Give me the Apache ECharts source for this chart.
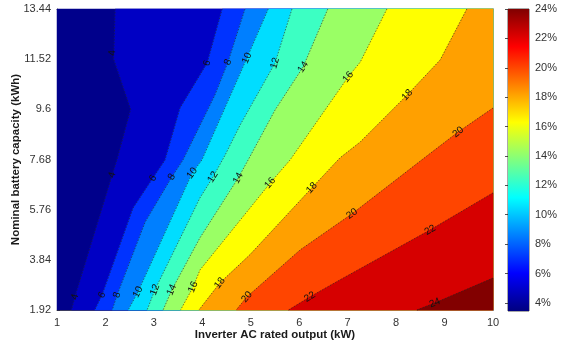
<!DOCTYPE html>
<html>
<head>
<meta charset="utf-8">
<script src="https://cdn.jsdelivr.net/npm/echarts@6/dist/echarts.min.js"></script>
<style>
html, body { margin: 0; padding: 0; background: #fff; }
#main { width: 566px; height: 345px; }
</style>
</head>
<body>
<div id="main"></div>
<script>
// contour levels (%) and colorbar ticks
var levels = [4, 6, 8, 10, 12, 14, 16, 18, 20, 22, 24];
var yTicks = [1.92, 3.84, 5.76, 7.68, 9.6, 11.52, 13.44];
var cbTicks = [4, 6, 8, 10, 12, 14, 16, 18, 20, 22, 24];

// contour lines, [kW, kWh], from the top/right end to the bottom end
var line4 = [[2.2, 13.44], [2.17, 11.52], [2.52, 9.6], [2.24, 7.68], [2.14, 7.09], [1.37, 2.42], [1.3, 1.92]];
var line6 = [[4.41, 13.44], [4.1, 11.37], [3.54, 9.65], [3.23, 7.66], [2.98, 6.97], [2.57, 5.82], [1.93, 2.49], [1.78, 1.92]];
var line8 = [[4.88, 13.44], [4.53, 11.41], [4.26, 10.15], [3.6, 7.66], [3.37, 7.01], [2.82, 5.29], [2.24, 2.49], [2.14, 1.92]];
var line10 = [[5.36, 13.44], [4.92, 11.56], [3.99, 7.66], [3.79, 7.16], [2.67, 2.61], [2.47, 1.92]];
var line12 = [[5.85, 13.44], [5.5, 11.37], [4.78, 9.0], [4.47, 7.85], [4.22, 7.01], [3.95, 6.21], [3.02, 2.69], [2.86, 1.92]];
var line14 = [[6.59, 13.44], [6.08, 11.22], [5.5, 9.57], [4.98, 7.78], [4.74, 6.97], [3.95, 4.68], [3.37, 2.69], [3.19, 1.92]];
var line16 = [[7.81, 13.44], [7.26, 11.41], [7.01, 10.84], [5.81, 7.66], [5.4, 6.78], [3.95, 3.45], [3.81, 2.8], [3.55, 1.92]];
var line18 = [[9.46, 13.44], [8.91, 11.49], [8.23, 10.15], [7.26, 8.35], [6.84, 7.74], [6.26, 6.59], [4.98, 4.03], [4.36, 2.95], [3.93, 1.92]];
var line20 = [[10, 9.65], [9.28, 8.73], [8.66, 7.85], [7.09, 5.6], [6.02, 4.22], [4.92, 2.42], [4.7, 1.92]];
var line22 = [[10, 6.4], [8.7, 4.98], [6.84, 3.07], [6.22, 2.42], [5.78, 1.92]];
var line24 = [[10, 3.14], [8.8, 2.19], [8.43, 1.92]];
var contourLines = [line4, line6, line8, line10, line12, line14, line16, line18, line20, line22, line24];

// inline contour labels [kW, kWh, level]
var labelPos = [
  [2.14, 11.76, 4], [2.14, 7.09, 4], [1.37, 2.42, 4],
  [4.1, 11.37, 6], [2.98, 6.97, 6], [1.93, 2.49, 6],
  [4.53, 11.41, 8], [3.37, 7.01, 8], [2.24, 2.49, 8],
  [4.92, 11.56, 10], [3.79, 7.16, 10], [2.67, 2.61, 10],
  [5.5, 11.37, 12], [4.22, 7.01, 12], [3.02, 2.69, 12],
  [6.08, 11.22, 14], [4.74, 6.97, 14], [3.37, 2.69, 14],
  [7.01, 10.84, 16], [5.4, 6.78, 16], [3.81, 2.8, 16],
  [8.23, 10.15, 18], [6.26, 6.59, 18], [4.36, 2.95, 18],
  [9.28, 8.73, 20], [7.09, 5.6, 20], [4.92, 2.42, 20],
  [8.7, 4.98, 22], [6.22, 2.42, 22],
  [8.8, 2.19, 24]
];

var xMin = 1, xMax = 10, yMin = 1.92, yMax = 13.44;
var cbMin = 3.45, cbMax = 24;

// fill of the band below 4 and then of each band above a level
var bandColors = ['#00008B', '#0000C4', '#0033FF', '#007FFF', '#00DDFF', '#3CFFC3',
  '#9AFF65', '#FFFF00', '#FFA000', '#FF4500', '#D60000', '#820000'];

var font = 'Liberation Sans, Arial, sans-serif';
var axisColor = '#262626';

function edgeT(p) {
  var e = 1e-6;
  if (Math.abs(p[1] - yMin) < e) return (p[0] - xMin) / (xMax - xMin);
  if (Math.abs(p[0] - xMax) < e) return 1 + (p[1] - yMin) / (yMax - yMin);
  if (Math.abs(p[1] - yMax) < e) return 2 + (xMax - p[0]) / (xMax - xMin);
  return 3 + (yMax - p[1]) / (yMax - yMin);
}

var cornerPts = [[xMax, yMin], [xMax, yMax], [xMin, yMax], [xMin, yMin]];

function cornersBetween(from, to) {
  var tA = edgeT(from), tB = edgeT(to);
  if (tB <= tA) tB += 4;
  var out = [];
  for (var k = 1; k <= 8; k++) {
    if (k > tA && k < tB) out.push(cornerPts[(k - 1) % 4]);
  }
  return out;
}

function renderBand(params, api) {
  var i = params.dataIndex;
  var pts;
  if (i === 0) {
    pts = [[xMin, yMin], [xMax, yMin], [xMax, yMax], [xMin, yMax]];
  } else {
    var line = contourLines[i - 1];
    pts = line.concat(cornersBetween(line[line.length - 1], line[0]));
  }
  return {
    type: 'polygon',
    shape: { points: pts.map(function (p) { return api.coord(p); }) },
    style: { fill: bandColors[i], stroke: bandColors[i], lineWidth: 0.5 }
  };
}

function renderLine(params, api) {
  var line = contourLines[params.dataIndex];
  return {
    type: 'polyline',
    shape: { points: line.map(function (p) { return api.coord(p); }) },
    style: { stroke: '#222', lineWidth: 0.6, lineDash: [1.5, 1.5], fill: null }
  };
}

function renderLabel(params, api) {
  var lp = labelPos[params.dataIndex];
  var line = contourLines[levels.indexOf(lp[2])];
  var c = api.coord([lp[0], lp[1]]);
  // direction of the nearest segment
  var best = 1e9, ang = 0;
  for (var k = 0; k < line.length - 1; k++) {
    var a = api.coord(line[k]), b = api.coord(line[k + 1]);
    var mx = (a[0] + b[0]) / 2, my = (a[1] + b[1]) / 2;
    var d = Math.abs(mx - c[0]) + Math.abs(my - c[1]);
    if (d < best) { best = d; ang = Math.atan2(-(b[1] - a[1]), b[0] - a[0]); }
  }
  if (ang > Math.PI / 2) ang -= Math.PI;
  if (ang < -Math.PI / 2) ang += Math.PI;
  return {
    type: 'text',
    x: c[0], y: c[1], rotation: ang,
    style: {
      text: String(lp[2]), fill: '#111', fontSize: 10, fontFamily: font,
      align: 'center', verticalAlign: 'middle'
    }
  };
}

function renderColorbar(params, api) {
  var p0 = api.coord([0, cbMax]);
  var p1 = api.coord([1, cbMin]);
  return {
    type: 'rect',
    shape: { x: p0[0], y: p0[1], width: p1[0] - p0[0], height: p1[1] - p0[1] },
    style: {
      fill: new echarts.graphic.LinearGradient(0, 1, 0, 0, [
        { offset: 0, color: '#000080' },
        { offset: 0.125, color: '#0000FF' },
        { offset: 0.375, color: '#00FFFF' },
        { offset: 0.625, color: '#FFFF00' },
        { offset: 0.875, color: '#FF0000' },
        { offset: 1, color: '#800000' }
      ])
    }
  };
}

var myChart = echarts.init(document.getElementById('main'));

var tick = { inside: true, length: 3, lineStyle: { color: axisColor, width: 0.8 } };
var aLine = { show: true, onZero: false, lineStyle: { color: axisColor, width: 0.8 } };

var option = {
  animation: false,
  textStyle: { fontFamily: font },
  grid: [
    { left: 57, top: 9, width: 436, height: 301, outerBoundsMode: 'none', containLabel: false },
    {
      left: 508, top: 9, width: 21, height: 302, outerBoundsMode: 'none', containLabel: false,
      show: true, borderColor: axisColor, borderWidth: 0.8
    }
  ],
  xAxis: [
    {
      gridIndex: 0, type: 'value', min: xMin, max: xMax, interval: 1, position: 'bottom',
      name: 'Inverter AC rated output (kW)', nameLocation: 'middle', nameGap: 19,
      nameMoveOverlap: false,
      nameTextStyle: { fontSize: 11.5, fontWeight: 'bold', color: '#1a1a1a', fontFamily: font },
      axisLine: aLine, axisTick: tick,
      axisLabel: { color: '#333', fontSize: 11, margin: 7, fontFamily: font },
      splitLine: { show: false }
    },
    {
      gridIndex: 0, type: 'value', min: xMin, max: xMax, interval: 1, position: 'top',
      axisLine: aLine, axisTick: tick, axisLabel: { show: false }, splitLine: { show: false }
    },
    { gridIndex: 1, type: 'value', min: 0, max: 1, show: false }
  ],
  yAxis: [
    {
      gridIndex: 0, type: 'value', min: yMin, max: yMax, position: 'left',
      name: 'Nominal battery capacity (kWh)', nameLocation: 'middle', nameGap: 35,
      nameMoveOverlap: false,
      nameTextStyle: { fontSize: 11.5, fontWeight: 'bold', color: '#1a1a1a', fontFamily: font },
      axisLine: aLine, axisTick: Object.assign({ customValues: yTicks }, tick),
      axisLabel: { color: '#333', fontSize: 11, margin: 6, fontFamily: font, customValues: yTicks },
      splitLine: { show: false }
    },
    {
      gridIndex: 0, type: 'value', min: yMin, max: yMax, position: 'right',
      axisLine: aLine, axisTick: Object.assign({ customValues: yTicks }, tick),
      axisLabel: { show: false, customValues: yTicks }, splitLine: { show: false }
    },
    {
      gridIndex: 1, type: 'value', min: cbMin, max: cbMax, position: 'right',
      axisLine: { show: false }, axisTick: Object.assign({ customValues: cbTicks }, tick),
      axisLabel: {
        color: '#333', fontSize: 11, margin: 6, fontFamily: font, customValues: cbTicks,
        formatter: '{value}%'
      },
      splitLine: { show: false }
    }
  ],
  series: [
    {
      type: 'custom', xAxisIndex: 0, yAxisIndex: 0, renderItem: renderBand,
      data: bandColors.map(function () { return [xMin, yMin]; }), silent: true, z: 1
    },
    {
      type: 'custom', xAxisIndex: 0, yAxisIndex: 0, renderItem: renderLine,
      data: contourLines.map(function () { return [xMin, yMin]; }), silent: true, z: 2
    },
    {
      type: 'custom', xAxisIndex: 0, yAxisIndex: 0, renderItem: renderLabel,
      data: labelPos.map(function (p) { return [p[0], p[1]]; }), silent: true, z: 3
    },
    {
      type: 'custom', xAxisIndex: 2, yAxisIndex: 2, renderItem: renderColorbar,
      data: [[0, cbMin]], silent: true, z: 1
    }
  ]
};

myChart.setOption(option);
</script>
</body>
</html>
